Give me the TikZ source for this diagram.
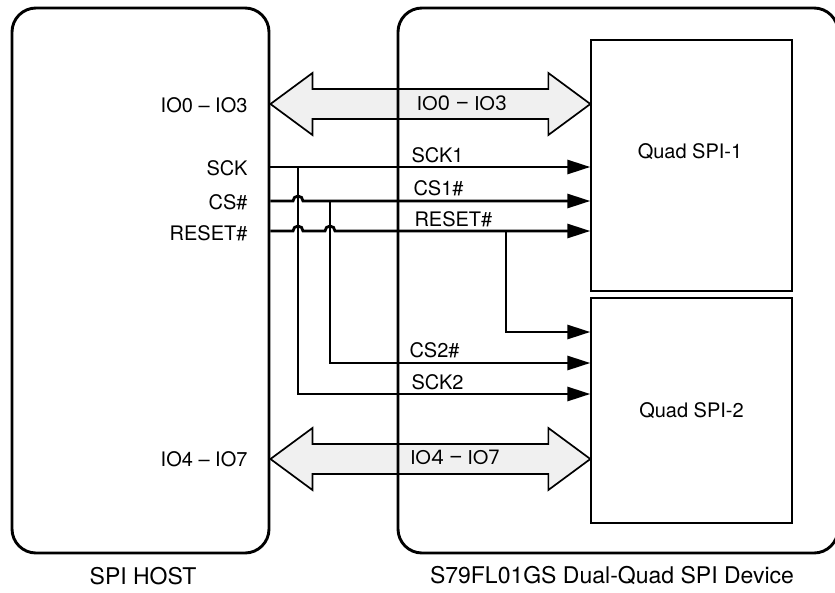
\documentclass[tikz,border=0pt]{standalone}
\usepackage{fontspec}
\setmainfont{TeX Gyre Heros}
\newfontfamily\busfont{Poppins}
\usetikzlibrary{arrows.meta,positioning,calc}
\pgfdeclarelayer{background}
\pgfsetlayers{background,main}

\begin{document}
\begin{tikzpicture}[x=1pt, y=-1pt,
    block/.style={rectangle, draw, line width=2.9pt, rounded corners=24pt},
    quad/.style={rectangle, draw, line width=1.3pt, minimum width=201pt,
                 font=\fontsize{20}{24}\selectfont},
    pin/.style={anchor=east, font=\fontsize{20}{24}\selectfont},
    sig/.style={anchor=west, font=\fontsize{20}{24}\selectfont},
    buslbl/.style={font=\busfont\fontsize{20}{24}\selectfont},
    caption/.style={font=\fontsize{23}{27}\selectfont},
    wire/.style={line width=2.8pt},
    arrow/.style={wire, -{Triangle[length=23pt, width=14pt]}},
    bus/.style={draw, line width=1.7pt, fill=gray!12, line join=miter}
]
\useasboundingbox (0,0) rectangle (835,592);

% Blocks
\node[block, minimum width=257pt, minimum height=545pt] (host) at (140.5,280.5) {};
\node[block, minimum width=440pt, minimum height=545pt] (dev) at (618,280.5) {};
\node[quad, minimum height=251pt] (spi1) at (691.5,165.5) {};
\node[quad, minimum height=225pt] (spi2) at (691.5,410.5) {Quad SPI-2};
\node[font=\fontsize{20}{24}\selectfont] (spi1txt) at (690,152) {Quad SPI-1};

% Captions
\node[caption] (hostcap) at (143,576) {SPI HOST};
\node[caption] (devcap) at (612,576) {S79FL01GS Dual-Quad SPI Device};

% Host pins
\node[pin] (pio0) at (251,105) {IO0 – IO3};
\node[pin] (psck) at (251,168) {SCK};
\node[pin] (pcs) at (251,202) {CS\#};
\node[pin] (prst) at (251,233) {RESET\#};
\node[pin] (pio4) at (251,459) {IO4 – IO7};

% Buses
\coordinate (b1L) at (host.east |- 0,104);
\coordinate (b1R) at (spi1.west |- 0,104);
\coordinate (b2L) at (host.east |- 0,459);
\coordinate (b2R) at (spi2.west |- 0,459);
\begin{pgfonlayer}{background}
\draw[bus] (b1L) -- ++(42,-31) -- ++(0,16) -- ($(b1R)+(-42,-15)$) -- ++(0,-16)
    -- (b1R) -- ++(-42,31) -- ++(0,-16) -- ($(b1L)+(42,15)$) -- ++(0,16) -- cycle;
\draw[bus] (b2L) -- ++(42,-31) -- ++(0,16) -- ($(b2R)+(-42,-15)$) -- ++(0,-16)
    -- (b2R) -- ++(-42,31) -- ++(0,-16) -- ($(b2L)+(42,15)$) -- ++(0,16) -- cycle;
\end{pgfonlayer}
\node[buslbl] (b1lbl) at (462,103) {IO0 – IO3};
\node[buslbl] (b2lbl) at (455,457) {IO4 – IO7};

% Branch points
\coordinate (sckJ) at (298,167);
\coordinate (csJ) at (330,201);
\coordinate (rstJ) at (506,231);

% Signals to Quad SPI-1
\draw[arrow] (host.east |- sckJ) -- (spi1.west |- sckJ);
\draw[arrow] (host.east |- csJ) -- ($(sckJ |- csJ)+(-5,0)$)
    arc[start angle=180, end angle=360, radius=5] -- (spi1.west |- csJ);
\draw[arrow] (host.east |- rstJ) -- ($(sckJ |- rstJ)+(-5,0)$)
    arc[start angle=180, end angle=360, radius=5] -- ($(csJ |- rstJ)+(-5,0)$)
    arc[start angle=180, end angle=360, radius=5] -- (spi1.west |- rstJ);

% Signals to Quad SPI-2
\draw[arrow] (rstJ) |- (spi2.west |- 0,332);
\draw[arrow] (csJ) |- (spi2.west |- 0,363);
\draw[arrow] (sckJ) |- (spi2.west |- 0,394);

% Signal labels
\node[sig] (lsck1) at (408,155) {SCK1};
\node[sig] (lcs1) at (410,188) {CS1\#};
\node[sig] (lrst) at (411,219) {RESET\#};
\node[sig] (lcs2) at (406,350) {CS2\#};
\node[sig] (lsck2) at (408,382) {SCK2};

\end{tikzpicture}
\end{document}
